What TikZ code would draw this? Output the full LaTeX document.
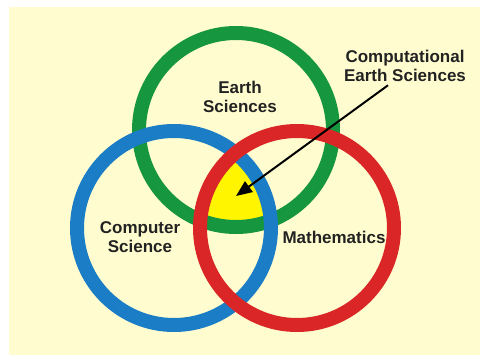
\documentclass[tikz,border=0pt]{standalone}
\usepackage{fontspec}
\setmainfont{Liberation Sans}
\usepackage{xcolor}
\usepackage{tikz}
\usetikzlibrary{arrows.meta, positioning, calc}
\definecolor{clrCream}{HTML}{FFFDCF}
\definecolor{clrGreen}{HTML}{16963F}
\definecolor{clrBlue}{HTML}{1B7DC6}
\definecolor{clrRed}{HTML}{DA2626}
\definecolor{clrYellow}{HTML}{FFF500}
\definecolor{clrText}{HTML}{222222}
\tikzset{
  ring/.style={circle, draw, line width=14pt, minimum size=194pt, inner sep=0pt},
  field label/.style={font=\fontsize{17}{19}\selectfont\bfseries, text=clrText, align=center},
  arr/.style={-{Triangle[length=16pt, width=13pt]}, line width=2pt},
}

\begin{document}
\begin{tikzpicture}[x=1pt, y=-1pt]
  \useasboundingbox (0,0) rectangle (480,360);
  \fill[clrCream] (9,7) rectangle (480,355);

  % Common core
  \coordinate (core) at (236,196);
  \begin{scope}
    \clip (236,130) circle (97);
    \clip (174,228) circle (97);
    \fill[clrYellow] (297,228) circle (97);
  \end{scope}

  % Rings
  \node[ring, draw=clrGreen] (earth) at (236,130) {};
  \node[ring, draw=clrBlue] (comp) at (174,228) {};
  \node[ring, draw=clrRed] (math) at (297,228) {};

  % Labels
  \node[field label] (earthlbl) at (240,97) {Earth\\Sciences};
  \node[field label] (complbl) at (140,237) {Computer\\Science};
  \node[field label] (mathlbl) at (334,237) {Mathematics};
  \node[field label] (ces) at (405,66) {Computational\\Earth Sciences};

  % Pointer
  \draw[arr, black] ([xshift=-17pt]ces.south) -- (core);
\end{tikzpicture}
\end{document}
